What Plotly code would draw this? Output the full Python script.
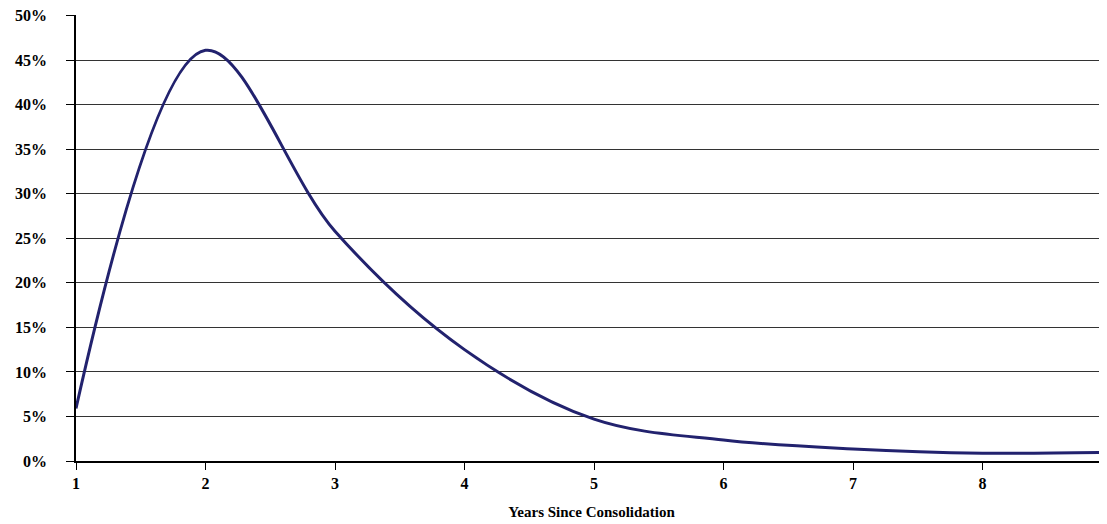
import plotly.graph_objects as go

years = [1, 2, 3, 4, 5, 6, 7, 8, 9]
share = [0.059, 0.461, 0.258, 0.125, 0.047, 0.0235, 0.0135, 0.0088, 0.0098]
y_ticks = [0, 0.05, 0.10, 0.15, 0.20, 0.25, 0.30, 0.35, 0.40, 0.45, 0.50]
x_ticks = [1, 2, 3, 4, 5, 6, 7, 8, 9]

fig = go.Figure()
fig.add_trace(go.Scatter(
    x=years, y=share, mode="lines",
    line=dict(color="#22226e", width=3, shape="spline", smoothing=1.0),
    hoverinfo="x+y", showlegend=False,
))

font_serif = "Liberation Serif, Times New Roman, serif"

fig.update_layout(
    width=1107, height=524,
    margin=dict(l=68, r=8, t=7, b=71, autoexpand=False),
    paper_bgcolor="white", plot_bgcolor="white",
    font=dict(family=font_serif, color="black"),
    xaxis=dict(
        range=[1, 1 + (1107 - 76) / 129.5],
        tickvals=x_ticks, ticktext=[str(v) for v in x_ticks],
        showgrid=False, zeroline=False, automargin=False,
        showline=True, linecolor="black", linewidth=1.5,
        ticks="outside", ticklen=7, tickcolor="black", tickwidth=1,
        tickfont=dict(family=font_serif, size=16, color="black", weight="bold"),
        title=dict(text="<b>Years Since Consolidation</b>",
                   font=dict(family=font_serif, size=15, color="black"),
                   standoff=16),
    ),
    yaxis=dict(
        range=[0, 0.5006],
        tickvals=y_ticks, tickformat=".0%",
        showgrid=True, gridcolor="#333333", gridwidth=1,
        zeroline=False, automargin=False,
        showline=True, linecolor="black", linewidth=1.5,
        ticks="outside", ticklen=8, tickcolor="black", tickwidth=1,
        ticklabelstandoff=16, ticklabeloverflow="allow",
        tickfont=dict(family=font_serif, size=16, color="black", weight="bold"),
    ),
)

fig.write_html("out.html")
